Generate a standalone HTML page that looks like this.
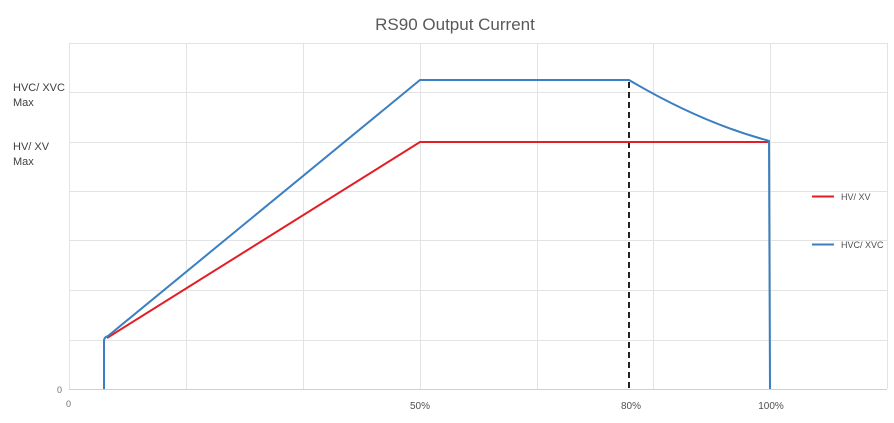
<!DOCTYPE html>
<html><head><style>
html,body{margin:0;padding:0;background:#fff;}
svg{display:block;font-family:"Liberation Sans",sans-serif;}
</style></head><body>
<svg width="894" height="423" viewBox="0 0 894 423" xmlns="http://www.w3.org/2000/svg">
<rect width="894" height="423" fill="#fff"/>
<text x="455" y="30" text-anchor="middle" font-size="17" fill="#595959">RS90 Output Current</text>
<g stroke="#e3e3e3" stroke-width="1">
<line x1="69" y1="43.5" x2="887" y2="43.5"/>
<line x1="69" y1="92.5" x2="887" y2="92.5"/>
<line x1="69" y1="142.5" x2="887" y2="142.5"/>
<line x1="69" y1="191.5" x2="887" y2="191.5"/>
<line x1="69" y1="240.5" x2="887" y2="240.5"/>
<line x1="69" y1="290.5" x2="887" y2="290.5"/>
<line x1="69" y1="340.5" x2="887" y2="340.5"/>
<line x1="69.5" y1="43" x2="69.5" y2="389"/>
<line x1="186.5" y1="43" x2="186.5" y2="389"/>
<line x1="303.5" y1="43" x2="303.5" y2="389"/>
<line x1="420.5" y1="43" x2="420.5" y2="389"/>
<line x1="537.5" y1="43" x2="537.5" y2="389"/>
<line x1="653.5" y1="43" x2="653.5" y2="389"/>
<line x1="770.5" y1="43" x2="770.5" y2="389"/>
<line x1="887.5" y1="43" x2="887.5" y2="389"/>
</g>
<line x1="69" y1="389.5" x2="887" y2="389.5" stroke="#d0d0d0"/>
<line x1="629" y1="82" x2="629" y2="389" stroke="#222" stroke-width="2" stroke-dasharray="6,4"/>
<polyline points="107,338 420,142 768,142" fill="none" stroke="#e41e26" stroke-width="2"/>
<path d="M104,389 L104,341 Q104,337 108,336 L420,80 L629,80 Q700,122 766,140 L769,141 L770,389" fill="none" stroke="#3a7fc1" stroke-width="2"/>
<g font-size="11" fill="#404040">
<text x="13" y="91">HVC/ XVC</text>
<text x="13" y="106">Max</text>
<text x="13" y="150">HV/ XV</text>
<text x="13" y="165">Max</text>
</g>
<text x="57" y="393" font-size="9" fill="#707070">0</text>
<text x="66" y="407" font-size="9" fill="#707070">0</text>
<g font-size="10" fill="#505050" text-anchor="middle">
<text x="420" y="409">50%</text>
<text x="631" y="409">80%</text>
<text x="771" y="409">100%</text>
</g>
<line x1="812" y1="196.5" x2="834" y2="196.5" stroke="#e41e26" stroke-width="2"/>
<text x="841" y="200" font-size="9" fill="#505050">HV/ XV</text>
<line x1="812" y1="244.5" x2="834" y2="244.5" stroke="#3a7fc1" stroke-width="2"/>
<text x="841" y="248" font-size="9" fill="#505050">HVC/ XVC</text>
</svg>
</body></html>
